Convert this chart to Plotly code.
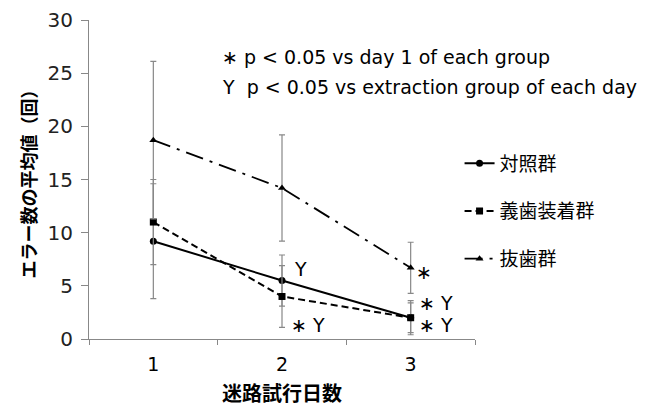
import plotly.graph_objects as go

days = ["1", "2", "3"]
control = [9.2, 5.5, 2.0]
control_err = [5.4, 2.4, 1.6]
denture = [11.0, 4.0, 2.0]
denture_err = [4.0, 2.9, 1.4]
extraction = [18.7, 14.2, 6.7]
extraction_err = [7.4, 5.0, 2.4]
names = ["対照群", "義歯装着群", "抜歯群"]

JP = "Noto Sans CJK JP"
LAT = "DejaVu Sans"
AST = "∗"

fig = go.Figure()
specs = [
    (control, control_err, names[0], "solid", "circle", 7, 2),
    (denture, denture_err, names[1], "7px,4px", "square", 7, 2),
    (extraction, extraction_err, names[2], "18px,7px,3px,7px", "triangle-up", 7, 1.8),
]
for i, (vals, err, nm, dash, sym, ms, lw) in enumerate(specs):
    fig.add_trace(go.Scatter(
        x=days, y=vals, name=nm, mode="lines+markers",
        line=dict(color="black", width=lw, dash=dash),
        marker=dict(symbol=sym, size=ms, color="black"),
        error_y=dict(type="data", array=err, visible=True, color="#888888",
                     thickness=1.2, width=3),
        legendgroup=str(i),
    ))

ann = [
    (1.14, 6.6, "Y"),
    (1.2, 1.3, AST + " Y"),
    (2.1, 6.3, AST),
    (2.2, 3.4, AST + " Y"),
    (2.2, 1.3, AST + " Y"),
]
for x, y, t in ann:
    fig.add_annotation(x=x, y=y, xref="x", yref="y", text=t, showarrow=False,
                       font=dict(family=LAT, size=19, color="black"))

fig.add_annotation(x=0.34, y=0.884, xref="paper", yref="paper", xanchor="left", yanchor="middle",
                   text=AST + " p < 0.05 vs day 1 of each group", showarrow=False,
                   font=dict(family=LAT, size=19, color="black"))
fig.add_annotation(x=0.34, y=0.79, xref="paper", yref="paper", xanchor="left", yanchor="middle",
                   text="Y  p < 0.05 vs extraction group of each day", showarrow=False,
                   font=dict(family=LAT, size=19, color="black"))

# page body has an 8px margin, so the figure is 640x399 placed at (8, 8)
fig.update_layout(
    width=640, height=399,
    margin=dict(l=81, r=173, t=12, b=68, autoexpand=False),
    plot_bgcolor="white", paper_bgcolor="white",
    showlegend=True,
    legend=dict(x=0.96, y=0.40, xanchor="left", yanchor="middle",
                font=dict(family=JP, size=19, color="black"),
                tracegroupgap=20, itemwidth=30, bgcolor="rgba(0,0,0,0)"),
    xaxis=dict(type="category", range=[-0.5, 2.5], tickson="boundaries",
               ticks="outside", ticklen=5, tickcolor="#888888", automargin=False,
               showline=True, linecolor="#888888", linewidth=1.2,
               showgrid=False, zeroline=False, ticklabelstandoff=8,
               tickfont=dict(family=LAT, size=19, color="black"),
               title=dict(text="<b>迷路試行日数</b>", font=dict(family=JP, size=20, color="black"), standoff=16)),
    yaxis=dict(range=[0, 30], tickvals=[0, 5, 10, 15, 20, 25, 30],
               ticks="outside", ticklen=7, tickcolor="#888888", automargin=False,
               showline=True, linecolor="#888888", linewidth=1.2,
               showgrid=False, zeroline=False, ticklabelstandoff=4,
               tickfont=dict(family=LAT, size=20, color="#222222"),
               title=dict(text="<b>エラー数の平均値（回）</b>", font=dict(family=JP, size=18, color="black"), standoff=6)),
)

fig.write_html("out.html")
